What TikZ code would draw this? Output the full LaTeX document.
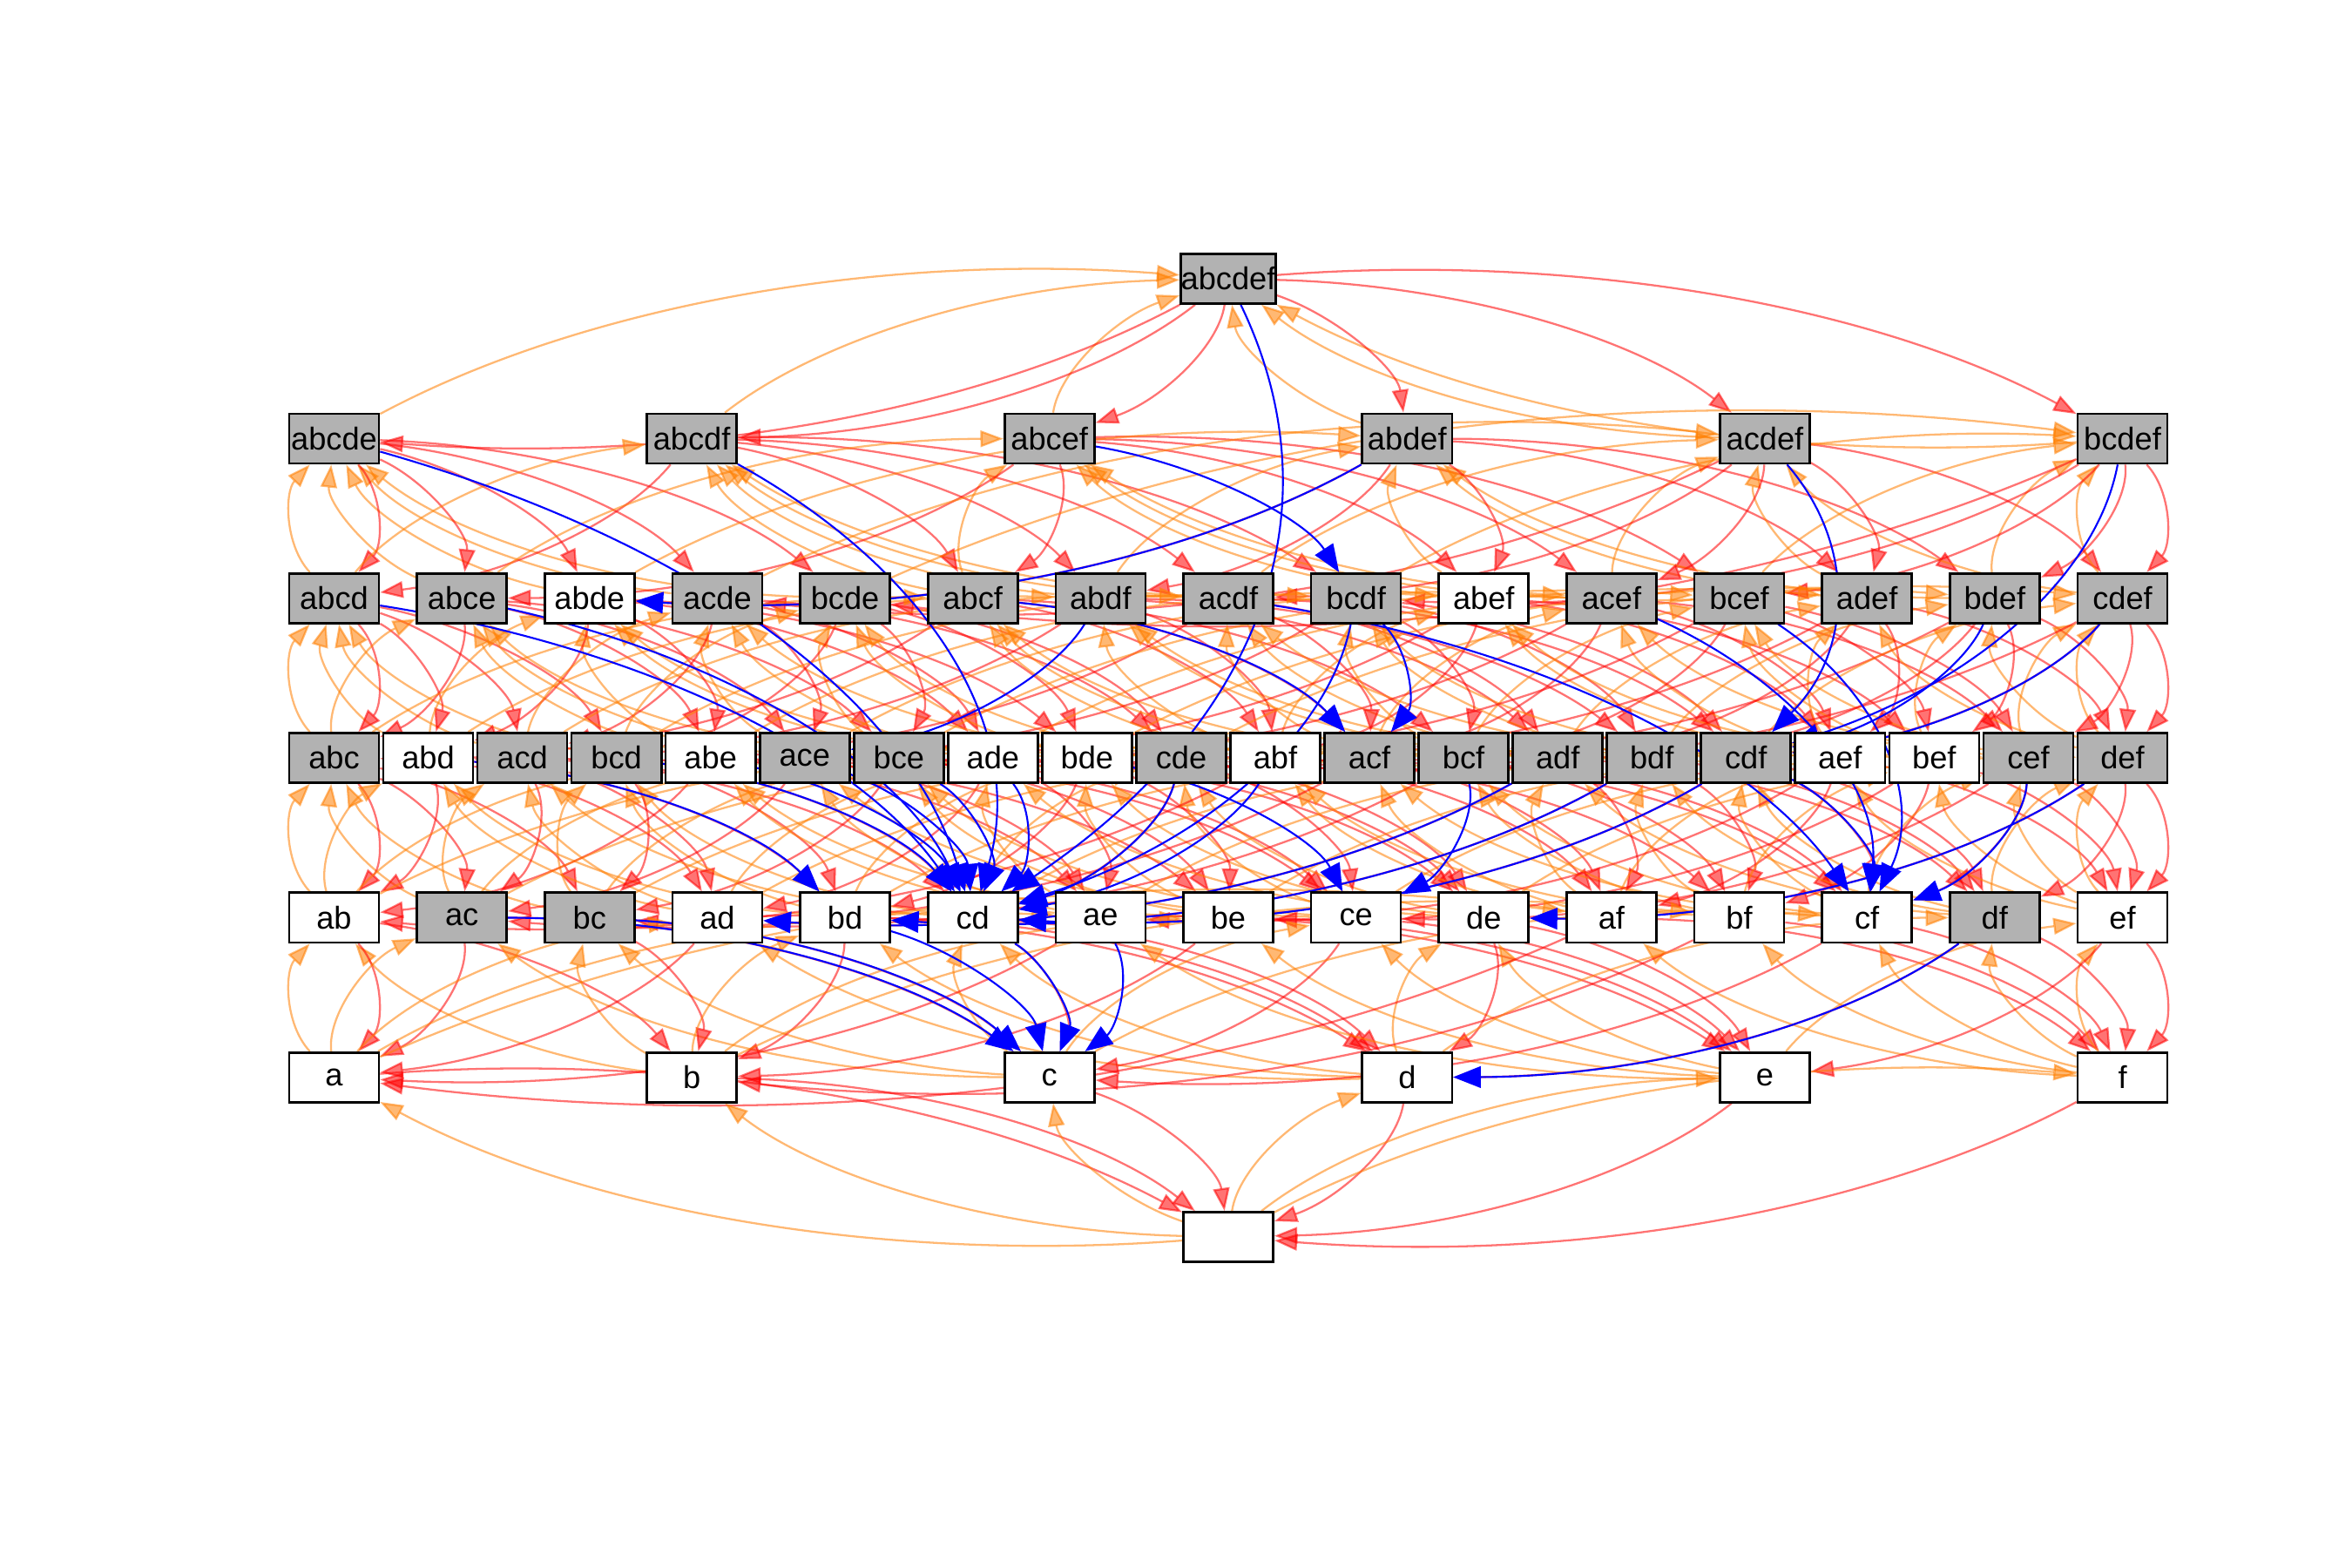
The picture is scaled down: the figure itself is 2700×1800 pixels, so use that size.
\documentclass[tikz,border=0pt]{standalone}
\usepackage{fontspec}
\setmainfont{Liberation Sans}
\usepackage{xstring}
\usetikzlibrary{arrows.meta,calc}
\pgfdeclarelayer{bg}
\pgfdeclarelayer{edges}
\pgfsetlayers{bg,edges,main}
\definecolor{redE}{RGB}{255,0,0}
\definecolor{orangeE}{RGB}{255,127,0}
\definecolor{grayN}{RGB}{178,178,178}
\def\kk{1.866}
% curved edge (quadratic-like lens) from #1 to #2 with style #3
\newcommand\lensedge[3]{%
  \draw[#3] let \p1=(#1.center), \p2=(#2.center) in
    (#1) .. controls ({\x1+(\x2-\x1)/3-\kk*(\y2-\y1)/6},{\y1+(\y2-\y1)/3+(\x2-\x1)/(6*\kk)})
         and ({\x2-(\x2-\x1)/3-\kk*(\y2-\y1)/6},{\y2-(\y2-\y1)/3+(\x2-\x1)/(6*\kk)}) .. (#2);%
}
\tikzset{
  setnode/.style={rectangle, draw=black, line width=0.75pt, minimum width=1.03cm,
    minimum height=0.57cm, inner sep=0pt, font=\fontsize{10.3}{11}\selectfont},
  gnode/.style={setnode, fill=grayN},
  wnode/.style={setnode, fill=white},
  rededge/.style={draw=redE, line width=0.65pt, opacity=0.55,
    -{Triangle[length=7.5pt,width=5.4pt]}},
  oredge/.style={draw=orangeE, line width=0.65pt, opacity=0.55,
    -{Triangle[length=7.5pt,width=5.4pt]}},
  bluedge/.style={draw=blue, line width=0.6pt,
    -{Triangle[length=9pt,width=7pt]}},
}
\begin{document}
\begin{tikzpicture}[x=0.01cm, y=-0.01cm]
\useasboundingbox (0,0) rectangle (2700,1800);
\begin{pgfonlayer}{bg}
\fill[white] (0,0) rectangle (2700,1800);
\end{pgfonlayer}

% nodes
\node[gnode] (abcdef) at (1410,320) {abcdef};
\foreach \nm/\st [count=\i from 0] in {abcde/gnode,abcdf/gnode,abcef/gnode,abdef/gnode,acdef/gnode,bcdef/gnode}
  \node[\st] (\nm) at ({383.5+410.6*\i},503.5) {\nm};
\foreach \nm/\st [count=\i from 0] in {abcd/gnode,abce/gnode,abde/wnode,acde/gnode,bcde/gnode,abcf/gnode,abdf/gnode,acdf/gnode,bcdf/gnode,abef/wnode,acef/gnode,bcef/gnode,adef/gnode,bdef/gnode,cdef/gnode}
  \node[\st] (\nm) at ({383.5+146.64*\i},686.7) {\nm};
\foreach \nm/\st [count=\i from 0] in {abc/gnode,abd/wnode,acd/gnode,bcd/gnode,abe/wnode,ace/gnode,bce/gnode,ade/wnode,bde/wnode,cde/gnode,abf/wnode,acf/gnode,bcf/gnode,adf/gnode,bdf/gnode,cdf/gnode,aef/wnode,bef/wnode,cef/gnode,def/gnode}
  \node[\st] (\nm) at ({383.5+108.05*\i},870) {\nm};
\foreach \nm/\st [count=\i from 0] in {ab/wnode,ac/gnode,bc/gnode,ad/wnode,bd/wnode,cd/wnode,ae/wnode,be/wnode,ce/wnode,de/wnode,af/wnode,bf/wnode,cf/wnode,df/gnode,ef/wnode}
  \node[\st] (\nm) at ({383.5+146.64*\i},1053.3) {\nm};
\foreach \nm [count=\i from 0] in {a,b,c,d,e,f}
  \node[wnode] (\nm) at ({383.5+410.6*\i},1236.7) {\nm};
\node[wnode] (empty) at (1410,1420) {};

% edges
\begin{pgfonlayer}{edges}
\foreach \s in {abcdef,abcde,abcdf,abcef,abdef,acdef,bcdef,
  abcd,abce,abde,acde,bcde,abcf,abdf,acdf,bcdf,abef,acef,bcef,adef,bdef,cdef,
  abc,abd,acd,bcd,abe,ace,bce,ade,bde,cde,abf,acf,bcf,adf,bdf,cdf,aef,bef,cef,def,
  ab,ac,bc,ad,bd,cd,ae,be,ce,de,af,bf,cf,df,ef,a,b,c,d,e,f} {
  \foreach \ltr in {a,b,c,d,e,f} {
    \IfSubStr{\s}{\ltr}{%
      \IfStrEq{\s}{\ltr}{\def\mysub{empty}}{\StrDel{\s}{\ltr}[\mysub]}%
      \lensedge{\s}{\mysub}{rededge}%
      \lensedge{\mysub}{\s}{oredge}%
    }{}%
  }
}
\foreach \u/\v in {abcdef/cd,abcde/cd,abcdf/cd,abdef/abde,abcef/bcdf,acdef/cdf,bcdef/cdf,
  abcd/cd,abce/cd,abdf/ace,abcf/acf,bcdf/acf,bcdf/cd,acdf/cf,acef/cf,bcef/cf,bdef/cdf,cdef/cdf,
  abd/bd,bcd/cd,abe/cd,ace/cd,bce/cd,ade/cd,cde/cd,abf/cd,cdf/cd,bde/ce,bcf/ce,adf/ad,bdf/bd,
  def/de,cdf/cf,cef/cf,ac/c,bc/c,bd/c,cd/c,ae/c,df/d}
  \lensedge{\u}{\v}{bluedge};
\end{pgfonlayer}
\end{tikzpicture}
\end{document}
